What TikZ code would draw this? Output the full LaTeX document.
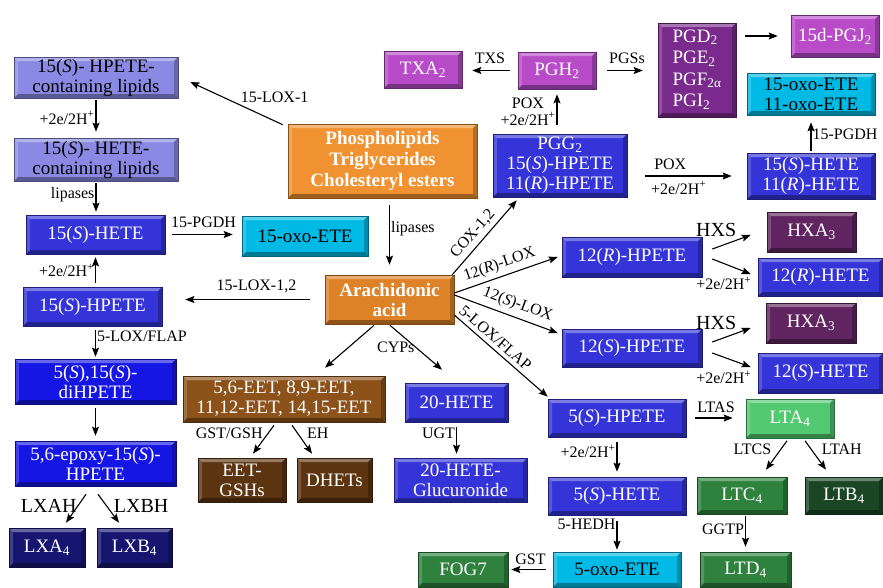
\documentclass[tikz,border=0pt]{standalone}
\usepackage{fontspec}
\setmainfont{Liberation Serif}
\usetikzlibrary{arrows.meta,calc}
\definecolor{lav}{RGB}{138,138,228}
\definecolor{hblue}{RGB}{52,52,216}
\definecolor{dblue}{RGB}{22,22,228}
\definecolor{navy}{RGB}{22,22,112}
\definecolor{cyanb}{RGB}{0,186,230}
\definecolor{orng}{RGB}{240,146,50}
\definecolor{aorng}{RGB}{222,130,40}
\definecolor{brwn}{RGB}{140,82,26}
\definecolor{dbrwn}{RGB}{92,52,16}
\definecolor{lpurp}{RGB}{184,76,200}
\definecolor{purp}{RGB}{122,42,140}
\definecolor{dpurp}{RGB}{96,36,96}
\definecolor{lgreen}{RGB}{82,200,112}
\definecolor{mgreen}{RGB}{46,130,62}
\definecolor{dgreen}{RGB}{26,70,36}
\tikzset{
  bev/.style={fill=#1, draw=#1!55!black, line width=0.6pt, align=center, inner sep=0pt,
              text=white, font=\fontsize{19}{20}\selectfont,
              path picture={
                \fill[white, opacity=.35] (path picture bounding box.north west) -- (path picture bounding box.north east)
                  -- ([shift={(-4pt,-4pt)}]path picture bounding box.north east) -- ([shift={(4pt,-4pt)}]path picture bounding box.north west) -- cycle;
                \fill[white, opacity=.18] (path picture bounding box.north west) -- (path picture bounding box.south west)
                  -- ([shift={(4pt,4pt)}]path picture bounding box.south west) -- ([shift={(4pt,-4pt)}]path picture bounding box.north west) -- cycle;
                \fill[black, opacity=.35] (path picture bounding box.south west) -- (path picture bounding box.south east)
                  -- ([shift={(-4pt,4pt)}]path picture bounding box.south east) -- ([shift={(4pt,4pt)}]path picture bounding box.south west) -- cycle;
                \fill[black, opacity=.25] (path picture bounding box.north east) -- (path picture bounding box.south east)
                  -- ([shift={(-4pt,4pt)}]path picture bounding box.south east) -- ([shift={(-4pt,-4pt)}]path picture bounding box.north east) -- cycle;
              }},
  dark/.style={text=black},
  arr/.style={-{Stealth[length=9pt, width=7pt, inset=1.5pt]}, line width=1.1pt, draw=black},
  lbl/.style={font=\fontsize{16}{17}\selectfont, inner sep=1pt, align=center},
  big/.style={font=\fontsize{20}{21}\selectfont, inner sep=1pt},
}
\newcommand{\eh}{+2e/2H\textsuperscript{+}}

\begin{document}
\begin{tikzpicture}[x=1pt, y=-1pt]
  \useasboundingbox (0,0) rectangle (883,587);

  % left column: 15-LOX products
  \node[bev=lav, dark, minimum width=164, minimum height=41] (lipHPETE) at (96,77.5) {15(\textit{S})- HPETE-\\containing lipids};
  \node[bev=lav, dark, minimum width=164, minimum height=43] (lipHETE) at (96,159.5) {15(\textit{S})- HETE-\\containing lipids};
  \node[bev=hblue, minimum width=139, minimum height=39] (hete15) at (95.5,234.5) {15(\textit{S})-HETE};
  \node[bev=cyanb, dark, minimum width=126, minimum height=40] (oxo15) at (305,236) {15-oxo-ETE};
  \node[bev=hblue, minimum width=139, minimum height=39] (hpete15) at (92.5,306.5) {15(\textit{S})-HPETE};
  \node[bev=dblue, minimum width=161, minimum height=45] (dihpete) at (95.5,381.5) {5(\textit{S}),15(\textit{S})-\\diHPETE};
  \node[bev=dblue, minimum width=161, minimum height=45] (epoxy) at (95.5,463.5) {5,6-epoxy-15(\textit{S})-\\HPETE};
  \node[bev=navy, minimum width=76, minimum height=39] (lxa) at (47,547.5) {LXA\textsubscript{4}};
  \node[bev=navy, minimum width=75, minimum height=39] (lxb) at (134.5,547.5) {LXB\textsubscript{4}};

  % centre
  \node[bev=orng, minimum width=189, minimum height=74, font=\fontsize{19}{21}\selectfont\bfseries] (phospho) at (382.5,161)
    {Phospholipids\\Triglycerides\\Cholesteryl esters};
  \node[bev=aorng, minimum width=129, minimum height=49, font=\fontsize{19}{20}\selectfont\bfseries] (aa) at (389.5,299.5) {Arachidonic\\acid};
  \node[bev=brwn, minimum width=202, minimum height=46] (eet) at (284,399) {5,6-EET, 8,9-EET,\\11,12-EET, 14,15-EET};
  \node[bev=dbrwn, minimum width=88, minimum height=44] (eetgsh) at (242,480) {EET-\\GSHs};
  \node[bev=dbrwn, minimum width=75, minimum height=44] (dhet) at (334.5,480) {DHETs};
  \node[bev=hblue, minimum width=103, minimum height=39] (hete20) at (456.5,402.5) {20-HETE};
  \node[bev=hblue, minimum width=133, minimum height=44] (gluc) at (460.5,480) {20-HETE-\\Glucuronide};

  % top: COX branch
  \node[bev=lpurp, minimum width=78, minimum height=37] (txa) at (423,69.5) {TXA\textsubscript{2}};
  \node[bev=lpurp, minimum width=78, minimum height=37] (pgh) at (557,70.5) {PGH\textsubscript{2}};
  \node[bev=hblue, minimum width=134, minimum height=63] (pgg) at (560,165.5) {PGG\textsubscript{2}\\15(\textit{S})-HPETE\\11(\textit{R})-HPETE};
  \node[bev=purp, minimum width=78, minimum height=94, font=\fontsize{19}{21.5}\selectfont] (pgd) at (697,70)
    {\begin{tabular}{@{}l@{}}PGD\textsubscript{2}\\PGE\textsubscript{2}\\PGF\textsubscript{2α}\\PGI\textsubscript{2}\end{tabular}};
  \node[bev=lpurp, minimum width=88, minimum height=42] (pgj) at (835,36) {15d-PGJ\textsubscript{2}};
  \node[bev=cyanb, dark, minimum width=128, minimum height=42] (oxo1511) at (811,94) {15-oxo-ETE\\11-oxo-ETE};
  \node[bev=hblue, minimum width=128, minimum height=46] (hete1511) at (811,176) {15(\textit{S})-HETE\\11(\textit{R})-HETE};

  % right: 12-LOX branch
  \node[bev=hblue, minimum width=140, minimum height=40] (hpete12r) at (632,257) {12(\textit{R})-HPETE};
  \node[bev=dpurp, minimum width=89, minimum height=40] (hxa1) at (811.5,232) {HXA\textsubscript{3}};
  \node[bev=hblue, minimum width=125, minimum height=38] (hete12r) at (820.5,277) {12(\textit{R})-HETE};
  \node[bev=hblue, minimum width=140, minimum height=38] (hpete12s) at (632,348) {12(\textit{S})-HPETE};
  \node[bev=dpurp, minimum width=90, minimum height=40] (hxa2) at (811,323) {HXA\textsubscript{3}};
  \node[bev=hblue, minimum width=125, minimum height=40] (hete12s) at (820.5,373) {12(\textit{S})-HETE};

  % bottom right: 5-LOX branch
  \node[bev=hblue, minimum width=138, minimum height=38] (hpete5) at (617,418) {5(\textit{S})-HPETE};
  \node[bev=hblue, minimum width=138, minimum height=38] (hete5) at (617,496) {5(\textit{S})-HETE};
  \node[bev=cyanb, dark, minimum width=128, minimum height=35] (oxo5) at (617,569.5) {5-oxo-ETE};
  \node[bev=mgreen, minimum width=90, minimum height=35] (fog) at (463,569.5) {FOG7};
  \node[bev=lgreen, minimum width=88, minimum height=39] (lta) at (790,418.5) {LTA\textsubscript{4}};
  \node[bev=mgreen, minimum width=90, minimum height=37] (ltc) at (742,495.5) {LTC\textsubscript{4}};
  \node[bev=dgreen, minimum width=78, minimum height=37] (ltb) at (844,495.5) {LTB\textsubscript{4}};
  \node[bev=mgreen, minimum width=91, minimum height=35] (ltd) at (745.5,569.5) {LTD\textsubscript{4}};

  % arrows, left column
  \draw[arr] ([shift={(-5,1)}]phospho.north west) -- ([shift={(12,4.5)}]lipHPETE.east)
    node[lbl, pos=.47, anchor=south west] (t-lox1) {15-LOX-1};
  \draw[arr, shorten <=2pt, shorten >=6pt] (lipHPETE.south) -- (lipHPETE.south |- lipHETE.north)
    node[lbl, midway, left] (t-red1) {\eh};
  \draw[arr, shorten <=2pt, shorten >=3pt] (lipHETE.south) -- (lipHETE.south |- hete15.north)
    node[lbl, pos=.4, left] (t-lip1) {lipases};
  \draw[arr, shorten <=7pt, shorten >=9pt] (hete15.east) -- (hete15.east -| oxo15.west)
    node[lbl, midway, above=5pt] (t-pgdh1) {15-PGDH};
  \draw[arr, shorten <=4pt, shorten >=3pt] (hete15.south |- hpete15.north) -- (hete15.south)
    node[lbl, midway, left] (t-red2) {\eh};
  \draw[arr, shorten <=15pt, shorten >=23pt] (aa.west) -- (aa.west -| hpete15.east)
    node[lbl, pos=.42, above=5pt] (t-lox12) {15-LOX-1,2};
  \draw[arr, shorten <=4pt, shorten >=2pt] (dihpete.north |- hpete15.south) -- (dihpete.north)
    node[lbl, pos=.3, right] (t-flap1) {5-LOX/FLAP};
  \draw[arr, shorten <=4pt, shorten >=5pt] (dihpete.south) -- (epoxy.north);
  \draw[arr] ([shift={(-9.5,8)}]epoxy.south) -- ([shift={(19,-5)}]lxa.north)
    node[big, pos=.4, left] (t-lxah) {LXAH};
  \draw[arr] ([shift={(2.5,8)}]epoxy.south) -- ([shift={(-15.5,-5)}]lxb.north)
    node[big, pos=.4, right=6pt] (t-lxbh) {LXBH};

  % arrows, centre
  \draw[arr, shorten <=7pt, shorten >=10pt] (aa.north |- phospho.south) -- (aa.north)
    node[lbl, pos=.4, right] (t-lip2) {lipases};
  \draw[arr] ([shift={(-15.5,1)}]aa.south) -- ([shift={(41,-8)}]eet.north);
  \draw[arr] ([shift={(0.5,1)}]aa.south) -- ([shift={(-14.5,-13)}]hete20.north)
    node[lbl, midway, left] (t-cyp) {CYPs};
  \draw[arr] ([shift={(-10,3)}]eet.south) -- ([shift={(11,-4)}]eetgsh.north)
    node[lbl, pos=.28, left=4pt] (t-gst1) {GST/GSH};
  \draw[arr] ([shift={(8,3)}]eet.south) -- ([shift={(-22.5,-4)}]dhet.north)
    node[lbl, pos=.28, right=8pt] (t-eh) {EH};
  \draw[arr, shorten <=5pt, shorten >=4pt] (hete20.south) -- (hete20.south |- gluc.north)
    node[lbl, pos=.3, left] (t-ugt) {UGT};

  % arrows, COX branch
  \draw[arr] ([shift={(-2,0)}]aa.north east) -- ([shift={(24,3)}]pgg.south west)
    node[lbl, pos=.45, sloped, above=3pt] (t-cox) {COX-1,2};
  \draw[arr, shorten <=9pt, shorten >=5pt] (pgh.south |- pgg.north) -- (pgh.south)
    node[lbl, midway, left] (t-pox1) {POX\\\eh};
  \draw[arr, shorten <=8pt, shorten >=10pt] (pgh.west) -- (pgh.west -| txa.east)
    node[lbl, midway, above=5pt] (t-txs) {TXS};
  \draw[arr, shorten <=11pt, shorten >=15pt] (pgh.east) -- (pgh.east -| pgd.west)
    node[lbl, midway, above=5pt] (t-pgs) {PGSs};
  \draw[arr, shorten <=9pt, shorten >=13pt] (pgd.east |- pgj.west) -- (pgj.west);
  \draw[arr, shorten <=18pt, shorten >=15pt] (pgg.east |- hete1511.west) -- (hete1511.west)
    node[lbl, pos=.36, above=5pt] (t-pox2) {POX}
    node[lbl, pos=.43, below=4pt] (t-red3) {\eh};
  \draw[arr, shorten <=2pt, shorten >=7pt] (hete1511.north) -- (hete1511.north |- oxo1511.south)
    node[lbl, midway, right] (t-pgdh2) {15-PGDH};

  % arrows, 12-LOX branch
  \draw[arr] ([shift={(0,-6.5)}]aa.east) -- ([shift={(-4,0)}]hpete12r.west)
    node[lbl, pos=.475, sloped, above=3pt] (t-lox12r) {12(\textit{R})-LOX};
  \draw[arr] ([shift={(0,-4.5)}]aa.east) -- ([shift={(-4,-15)}]hpete12s.west)
    node[lbl, pos=.57, sloped, above=4pt] (t-lox12s) {12(\textit{S})-LOX};
  \draw[arr] ([shift={(10,-8)}]hpete12r.east) -- ([shift={(-16,3)}]hxa1.west)
    node[big, pos=.1, above=9pt] (t-hxs1) {HXS};
  \draw[arr] ([shift={(10,2)}]hpete12r.east) -- ([shift={(-7,-3)}]hete12r.west)
    node[lbl, pos=.3, below=12pt] (t-red4) {\eh};
  \draw[arr] ([shift={(10,-6)}]hpete12s.east) -- ([shift={(-15,5)}]hxa2.west)
    node[big, pos=.1, above=9pt] (t-hxs2) {HXS};
  \draw[arr] ([shift={(10,5)}]hpete12s.east) -- ([shift={(-7,-6)}]hete12s.west)
    node[lbl, pos=.3, below=12pt] (t-red5) {\eh};

  % arrows, 5-LOX branch
  \draw[arr] ([shift={(0,15.5)}]aa.east) -- ([shift={(0,-2)}]hpete5.north west)
    node[lbl, pos=.37, sloped, above=3pt] (t-flap2) {5-LOX/FLAP};
  \draw[arr, shorten <=9pt, shorten >=13pt] (hpete5.east) -- (hpete5.east -| lta.west)
    node[lbl, midway, above=4pt] (t-ltas) {LTAS};
  \draw[arr] ([shift={(-3,2.5)}]lta.south) -- ([shift={(24,-7)}]ltc.north)
    node[lbl, pos=.3, left=8pt] (t-ltcs) {LTCS};
  \draw[arr] ([shift={(15,2.5)}]lta.south) -- ([shift={(-18,-7)}]ltb.north)
    node[lbl, pos=.3, right=9pt] (t-ltah) {LTAH};
  \draw[arr, shorten <=2pt, shorten >=5pt] (ltd.north |- ltc.south) -- (ltd.north)
    node[lbl, pos=.4, left] (t-ggtp) {GGTP};
  \draw[arr, shorten <=5pt, shorten >=5pt] (hpete5.south) -- (hete5.north)
    node[lbl, pos=.35, left] (t-red6) {\eh};
  \draw[arr, shorten <=6pt, shorten >=2pt] (hete5.south) -- (oxo5.north)
    node[lbl, pos=.25, left] (t-hedh) {5-HEDH};
  \draw[arr, shorten <=7pt, shorten >=3pt] (oxo5.west) -- (fog.east)
    node[lbl, midway, above=3pt] (t-gst2) {GST};
\end{tikzpicture}
\end{document}
